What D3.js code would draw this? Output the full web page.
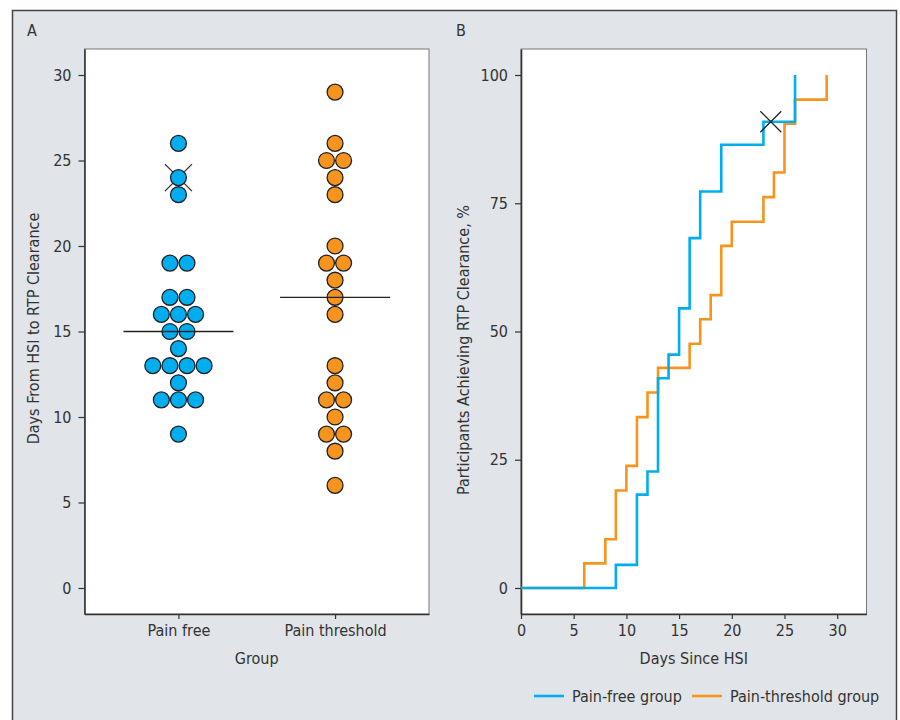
<!DOCTYPE html>
<html>
<head>
<meta charset="utf-8">
<script src="https://cdn.jsdelivr.net/npm/d3@7"></script>
<style>
  body { margin: 0; background: #fff; }
  svg text { font-family: "DejaVu Sans Condensed", "Roboto", sans-serif; fill: #333; }
</style>
</head>
<body>
<svg width="900" height="720"></svg>
<script>
// --- DATA ---
const groups = ["Pain free", "Pain threshold"];
const painFreeDays = [26, 24, 23, 19, 19, 17, 17, 16, 16, 16, 15, 15, 14, 13, 13, 13, 13, 12, 11, 11, 11, 9];
const painThresholdDays = [29, 26, 25, 25, 24, 23, 20, 19, 19, 18, 17, 16, 13, 12, 11, 11, 10, 9, 9, 8, 6];
const groupMedians = [15, 17];
const censoredA = [24];            // pain free group, censored participant

const pfStepDays = [0, 9, 11, 12, 13, 14, 15, 16, 17, 19, 23, 26];
const pfStepPct  = [0, 4.5, 18.2, 22.7, 40.9, 45.5, 54.5, 68.2, 77.3, 86.4, 90.9, 100];
const ptStepDays = [0, 6, 8, 9, 10, 11, 12, 13, 16, 17, 18, 19, 20, 23, 24, 25, 26, 29];
const ptStepPct  = [0, 4.8, 9.5, 19.0, 23.8, 33.3, 38.1, 42.9, 47.6, 52.4, 57.1, 66.7, 71.4, 76.2, 81.0, 90.5, 95.2, 100];
const censoredB = { day: 23.7, pct: 90.9 };

const yTicksA = [0, 5, 10, 15, 20, 25, 30];
const yTicksB = [0, 25, 50, 75, 100];
const xTicksB = [0, 5, 10, 15, 20, 25, 30];
const legendLabels = ["Pain-free group", "Pain-threshold group"];

const blue = "#00aeef";
const orange = "#f7941d";
const ink = "#333";
const fs = 16;

const svg = d3.select("svg");

// --- FRAME ---
svg.append("rect")
  .attr("x", 12.5).attr("y", 10.5)
  .attr("width", 884).attr("height", 720)
  .attr("fill", "#e1e4e8")
  .attr("stroke", "#444")
  .attr("stroke-width", 1.5);

svg.append("text").attr("x", 27).attr("y", 36).attr("font-size", fs).text("A");
svg.append("text").attr("x", 456).attr("y", 36).attr("font-size", fs).text("B");

function plotBox(x0, x1, y0, y1) {
  svg.append("rect")
    .attr("x", x0).attr("y", y0)
    .attr("width", x1 - x0).attr("height", y1 - y0)
    .attr("fill", "#fff")
    .attr("stroke", "#777")
    .attr("stroke-width", 1);
}

function styleAxis(g) {
  g.selectAll(".domain").attr("stroke", ink).attr("stroke-width", 1.6);
  g.selectAll(".tick line").attr("stroke", ink).attr("stroke-width", 1.2);
  g.selectAll(".tick text").attr("font-size", fs).attr("fill", ink)
    .style("font-family", "\"DejaVu Sans Condensed\", sans-serif");
}

// --- PANEL A ---
const A = { left: 84.5, right: 429, top: 49, bottom: 614 };
plotBox(A.left, A.right, A.top, A.bottom);

const xA = d3.scaleLinear().domain([0.4, 2.6]).range([A.left, A.right]);
const yA = d3.scaleLinear().domain([-1.52, 31.52]).range([A.bottom, A.top]);

svg.append("g")
  .attr("transform", `translate(${A.left},0)`)
  .call(d3.axisLeft(yA).tickValues(yTicksA).tickSize(6).tickPadding(7).tickSizeOuter(0))
  .call(styleAxis);

svg.append("g")
  .attr("transform", `translate(0,${A.bottom})`)
  .call(d3.axisBottom(xA).tickValues([1, 2]).tickFormat((d, i) => groups[i]).tickSize(5).tickPadding(6).tickSizeOuter(0))
  .call(styleAxis);

const unit = yA(0) - yA(1);
const r = unit / 2 - 0.6;

function dotLayout(values, gi) {
  const counts = d3.rollup(values, v => v.length, d => d);
  const out = [];
  counts.forEach((n, v) => {
    for (let i = 0; i < n; i++) {
      out.push({ v, x: xA(gi + 1) + (i - (n - 1) / 2) * unit, y: yA(v) });
    }
  });
  return out;
}

// censored marker (behind dot)
censoredA.forEach(v => {
  const cx = xA(1), cy = yA(v), h = 13.5;
  svg.append("path")
    .attr("d", `M${cx - h},${cy - h}L${cx + h},${cy + h}M${cx - h},${cy + h}L${cx + h},${cy - h}`)
    .attr("stroke", ink).attr("stroke-width", 1.3).attr("fill", "none");
});

[painFreeDays, painThresholdDays].forEach((vals, gi) => {
  svg.append("g").selectAll("circle")
    .data(dotLayout(vals, gi))
    .enter().append("circle")
    .attr("cx", d => d.x).attr("cy", d => d.y).attr("r", r)
    .attr("fill", gi === 0 ? blue : orange)
    .attr("stroke", "#222").attr("stroke-width", 1.3);
});

groupMedians.forEach((m, gi) => {
  svg.append("line")
    .attr("x1", xA(gi + 1) - 55).attr("x2", xA(gi + 1) + 55)
    .attr("y1", yA(m)).attr("y2", yA(m))
    .attr("stroke", "#222").attr("stroke-width", 1.3);
});

svg.append("text")
  .attr("transform", `translate(39,${(A.top + A.bottom) / 2 - 3}) rotate(-90)`)
  .attr("text-anchor", "middle").attr("font-size", fs)
  .text("Days From HSI to RTP Clearance");

svg.append("text")
  .attr("x", (A.left + A.right) / 2).attr("y", 664)
  .attr("text-anchor", "middle").attr("font-size", fs)
  .text("Group");

// --- PANEL B ---
const B = { left: 521, right: 866.5, top: 49, bottom: 614 };
plotBox(B.left, B.right, B.top, B.bottom);

const xB = d3.scaleLinear().domain([0, 32.78]).range([B.left, B.right]);
const yB = d3.scaleLinear().domain([-5.07, 105.07]).range([B.bottom, B.top]);

svg.append("g")
  .attr("transform", `translate(${B.left},0)`)
  .call(d3.axisLeft(yB).tickValues(yTicksB).tickSize(6).tickPadding(7).tickSizeOuter(0))
  .call(styleAxis);

svg.append("g")
  .attr("transform", `translate(0,${B.bottom})`)
  .call(d3.axisBottom(xB).tickValues(xTicksB).tickSize(5).tickPadding(6).tickSizeOuter(0))
  .call(styleAxis);

const step = d3.line()
  .x(d => xB(d[0]))
  .y(d => yB(d[1]))
  .curve(d3.curveStepAfter);

svg.append("path")
  .datum(ptStepDays.map((d, i) => [d, ptStepPct[i]]))
  .attr("d", step)
  .attr("fill", "none").attr("stroke", orange).attr("stroke-width", 2.6);

svg.append("path")
  .datum(pfStepDays.map((d, i) => [d, pfStepPct[i]]))
  .attr("d", step)
  .attr("fill", "none").attr("stroke", blue).attr("stroke-width", 2.6);

{
  const cx = xB(censoredB.day), cy = yB(censoredB.pct), h = 10.5;
  svg.append("path")
    .attr("d", `M${cx - h},${cy - h}L${cx + h},${cy + h}M${cx - h},${cy + h}L${cx + h},${cy - h}`)
    .attr("stroke", "#222").attr("stroke-width", 1.3).attr("fill", "none");
}

svg.append("text")
  .attr("transform", `translate(469,350) rotate(-90)`)
  .attr("text-anchor", "middle").attr("font-size", fs)
  .text("Participants Achieving RTP Clearance, %");

svg.append("text")
  .attr("x", (B.left + B.right) / 2).attr("y", 664)
  .attr("text-anchor", "middle").attr("font-size", fs)
  .text("Days Since HSI");

// --- LEGEND ---
const legendX = [534, 692];
[blue, orange].forEach((c, i) => {
  svg.append("line")
    .attr("x1", legendX[i]).attr("x2", legendX[i] + 30)
    .attr("y1", 696).attr("y2", 696)
    .attr("stroke", c).attr("stroke-width", 2.6);
  svg.append("text")
    .attr("x", legendX[i] + 38).attr("y", 702)
    .attr("font-size", fs)
    .text(legendLabels[i]);
});
</script>
</body>
</html>
